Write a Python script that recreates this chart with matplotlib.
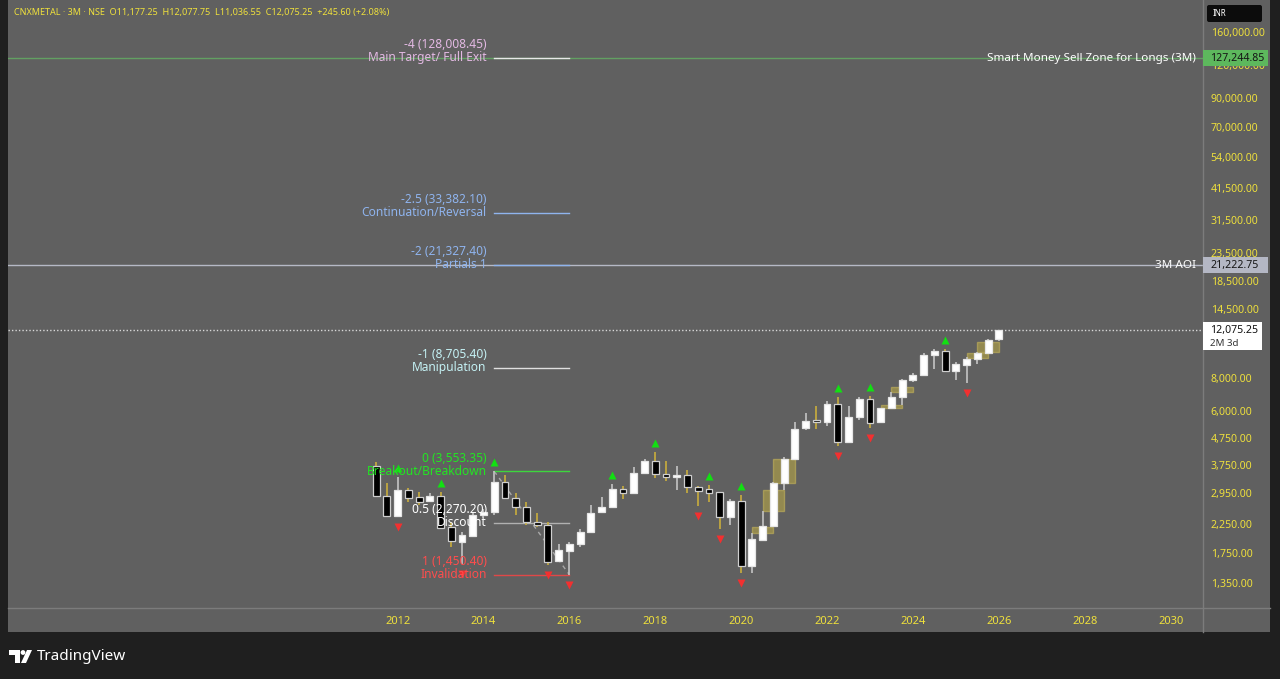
import matplotlib
matplotlib.use('Agg')
import matplotlib.pyplot as plt
import matplotlib.transforms as mtrans
from matplotlib.patches import Rectangle, Polygon, Circle, FancyBboxPatch
from matplotlib.lines import Line2D
from matplotlib.ticker import NullLocator

plt.rcParams['font.family'] = ['Noto Sans', 'DejaVu Sans']

# ---------------- data (quarterly candles, CNXMETAL) ----------------
quarters = ['2011Q3', '2011Q4',
            '2012Q1', '2012Q2', '2012Q3', '2012Q4',
            '2013Q1', '2013Q2', '2013Q3', '2013Q4',
            '2014Q1', '2014Q2', '2014Q3', '2014Q4',
            '2015Q1', '2015Q2', '2015Q3', '2015Q4',
            '2016Q1', '2016Q2', '2016Q3', '2016Q4',
            '2017Q1', '2017Q2', '2017Q3', '2017Q4',
            '2018Q1', '2018Q2', '2018Q3', '2018Q4',
            '2019Q1', '2019Q2', '2019Q3', '2019Q4',
            '2020Q1', '2020Q2', '2020Q3', '2020Q4',
            '2021Q1', '2021Q2', '2021Q3', '2021Q4',
            '2022Q1', '2022Q2', '2022Q3', '2022Q4',
            '2023Q1', '2023Q2', '2023Q3', '2023Q4',
            '2024Q1', '2024Q2', '2024Q3', '2024Q4',
            '2025Q1', '2025Q2', '2025Q3', '2025Q4',
            '2026Q1']
opens = [3731, 2860,
         2420, 3022, 2840, 2735,
         2870, 2190, 1931, 2034,
         2434, 2500, 3250, 2820,
         2616, 2290, 2240, 1630,
         1781, 1888, 2105, 2490,
         2610, 3045, 2945, 3500,
         3876, 3480, 3392, 3430,
         3100, 3040, 2960, 2400,
         2755, 1564, 1965, 2215,
         3215, 3960, 5160, 5520,
         5470, 6369, 4590, 5705,
         6640, 5430, 6136, 6750,
         7860, 8200, 9700, 10082,
         8499, 8950, 9406, 9900,
         11177.25]
highs = [3863, 3203,
         3380, 3084, 2963, 2937,
         2978, 2296, 2095, 2504,
         2560, 3553.35, 3442, 2937,
         2731, 2470, 2296, 1888,
         1921, 2150, 2654, 2852,
         3184, 3129, 3680, 3944,
         4201, 3886, 3721, 3594,
         3130, 3156, 2978, 2800,
         2894, 2088, 2526, 3225,
         4013, 5463, 5875, 6259,
         6554, 6785, 6259, 6785,
         6826, 6140, 7048, 7910,
         8354, 9883, 10231, 10231,
         9189, 9580, 10020, 11200,
         12077.75]
lows = [2845, 2398,
        2390, 2731, 2654, 2712,
        2165, 1849, 1590, 2020,
        2370, 2440, 2813, 2434,
        2232, 2199, 1578, 1615,
        1450.40, 1844, 2090, 2470,
        2590, 2788, 2920, 3480,
        3362, 3276, 3022, 2937,
        2631, 2731, 2150, 2232,
        1468, 1476, 1950, 2187,
        3022, 3954, 5084, 5115,
        5262, 4426, 4550, 5544,
        5160, 5380, 6100, 6314,
        7727, 8150, 8603, 8426,
        7841, 7620, 9008, 9850,
        11036.55]
closes = [2877, 2419,
          3022, 2828, 2731, 2877,
          2180, 1943, 2046, 2434,
          2500, 3248, 2828, 2616,
          2296, 2232, 1624, 1797,
          1888, 2100, 2483, 2616,
          3041, 2945, 3493, 3876,
          3463, 3392, 3442, 3094,
          3004, 2937, 2398, 2755,
          1564, 1971, 2212, 3220,
          3944, 5128, 5511, 5470,
          6369, 4594, 5705, 6633,
          5416, 6136, 6750, 7841,
          8189, 9738, 10082, 8499,
          8984, 9406, 9883, 11120,
          12075.25]

# imbalance boxes (olive)
fvg_start = ['2020Q2', '2020Q3', '2020Q4', '2023Q2', '2023Q3', '2025Q2', '2025Q3']
fvg_end = ['2020Q4', '2021Q1', '2021Q2', '2023Q4', '2024Q1', '2025Q4', '2026Q1']
fvg_low = [2088, 2526, 3220, 6136, 7048, 9464, 10020]
fvg_high = [2187, 3022, 3954, 6314, 7399, 9883, 10928]

# swing markers
swing_high_q = ['2012Q1', '2013Q1', '2014Q2', '2017Q1', '2018Q1', '2019Q2',
                '2020Q1', '2022Q2', '2023Q1', '2024Q4']
swing_low_q = ['2012Q1', '2013Q3', '2015Q3', '2016Q1', '2019Q1', '2019Q3',
               '2020Q1', '2022Q2', '2023Q1', '2025Q2']

# log fib levels
fib_start, fib_end = '2014Q2', '2016Q1'
fib_levels = [-4, -2.5, -2, -1, 0, 0.5, 1]
fib_prices = [128008.45, 33382.10, 21327.40, 8705.40, 3553.35, 2270.20, 1450.40]
fib_names = ['Main Target/ Full Exit', 'Continuation/Reversal', 'Partials 1',
             'Manipulation', 'Breakout/Breakdown', 'Discount', 'Invalidation']
fib_text_colors = ['#e3b9e3', '#8fb4ee', '#8fb4ee', '#c4f1f4', '#22e622', '#ffffff', '#ff4d4d']
fib_line_colors = ['#e8e8e8', '#8fb4ee', '#8fb4ee', '#e0e0e0', '#3dd63d', '#b0b0b0', '#e04848']

# full-width zones
zone_prices = [127244.85, 21222.75]
zone_names = ['Smart Money Sell Zone for Longs (3M)', '3M AOI']
zone_colors = ['#62a062', '#b6b9c6']
zone_label_bg = ['#5db85d', '#b4b7c4']

year_ticks = [2012, 2014, 2016, 2018, 2020, 2022, 2024, 2026, 2028, 2030]
price_ticks = [160000, 120000, 90000, 70000, 54000, 41500, 31500, 23500, 18500,
               14500, 8000, 6000, 4750, 3750, 2950, 2250, 1750, 1350]

header = ('CNXMETAL · 3M · NSE  O11,177.25  H12,077.75  L11,036.55  '
          'C12,075.25  +245.60 (+2.08%)')
remaining = '2M 3d'

# ---------------- styling ----------------
BG = '#606060'
DARK = '#1f1f1f'
YEL = '#efe03c'
SEP = '#7c7c7c'
W, H = 1280, 679


def qidx(q):
    return (int(q[:4]) - 2012) * 4 + int(q[-1]) - 1


fig = plt.figure(figsize=(W / 100, H / 100), dpi=100)
fig.patch.set_facecolor(DARK)
ident = mtrans.IdentityTransform()

# gray pane incl. axes strips
fig.add_artist(Rectangle((8, H - 632), 1270 - 8, 632, transform=ident,
                         facecolor=BG, edgecolor='none', zorder=0))

ax = fig.add_axes([8 / W, 1 - 608 / H, (1203 - 8) / W, 608 / H])
ax.set_facecolor(BG)
ax.set_yscale('log')
ax.set_xlim(-36.29, 75.02)
ax.set_ylim(1086.7, 211100)
for s in ax.spines.values():
    s.set_visible(False)

# axes ticks
ax.yaxis.tick_right()
ax.set_yticks(price_ticks)
ax.set_yticklabels([f'{v:,.2f}' for v in price_ticks])
ax.yaxis.set_minor_locator(NullLocator())
ax.tick_params(axis='y', length=0, pad=5.5, labelcolor=YEL, labelsize=7.6)
for t in ax.get_yticklabels():
    t.set_fontweight('bold')
ax.set_xticks([qidx(f'{y}Q1') for y in year_ticks])
ax.set_xticklabels([str(y) for y in year_ticks])
ax.xaxis.set_minor_locator(NullLocator())
ax.tick_params(axis='x', length=0, pad=5.5, labelcolor=YEL, labelsize=8)
for t in ax.get_xticklabels():
    t.set_fontweight('bold')

# full-width lines
for p, c in zip(zone_prices, zone_colors):
    ax.axhline(p, color=c, lw=1, zorder=1)
ax.axhline(closes[-1], color='#d8d8d8', lw=1, ls=(0, (1, 1.5)), zorder=1)
for p, name in zip(zone_prices, zone_names):
    ax.text(1 - 7 / 1195, p, name, transform=ax.get_yaxis_transform(),
            ha='right', va='center', color='white', fontsize=8.4, zorder=7)

# imbalance boxes
for s, e, lo, hi in zip(fvg_start, fvg_end, fvg_low, fvg_high):
    xs, xe = qidx(s), qidx(e)
    ax.add_patch(Rectangle((xs, lo), xe - xs, hi - lo, facecolor='#b3a347',
                           alpha=0.62, edgecolor='#c2b258', lw=1, zorder=2))

# candles
for q, o, h, l, c in zip(quarters, opens, highs, lows, closes):
    x = qidx(q)
    up = c >= o
    ax.vlines(x, l, h, color='#c4c4c4' if up else '#c9ae3c', lw=1.2, zorder=3)
    ax.add_patch(Rectangle((x - 0.32, min(o, c)), 0.64, abs(c - o),
                           facecolor='white' if up else 'black',
                           edgecolor='#e6e6e6' if up else '#cfcfcf',
                           lw=0.9, zorder=4))

# swing markers
hi_map = {q: h for q, h in zip(quarters, highs)}
lo_map = {q: l for q, l in zip(quarters, lows)}
up_tr = mtrans.offset_copy(ax.transData, fig=fig, y=9, units='dots')
dn_tr = mtrans.offset_copy(ax.transData, fig=fig, y=-10, units='dots')
ax.plot([qidx(q) for q in swing_high_q], [hi_map[q] for q in swing_high_q],
        ls='none', marker='^', ms=5.5, color='#12e012', mec='none',
        transform=up_tr, zorder=5)
ax.plot([qidx(q) for q in swing_low_q], [lo_map[q] for q in swing_low_q],
        ls='none', marker='v', ms=5.5, color='#f23030', mec='none',
        transform=dn_tr, zorder=5)

# fib tool
fs, fe = qidx(fib_start), qidx(fib_end)
ax.plot([fs, fe], [fib_prices[fib_levels.index(0)], fib_prices[fib_levels.index(1)]],
        color='#a8a8a8', lw=1, ls=(0, (3, 3)), zorder=2)
val_tr = mtrans.offset_copy(ax.transData, fig=fig, y=13, units='dots')
for lvl, p, name, tc, lc in zip(fib_levels, fib_prices, fib_names,
                                 fib_text_colors, fib_line_colors):
    ax.plot([fs, fe], [p, p], color=lc, lw=1, zorder=2)
    ax.text(fs - 0.7, p, name, ha='right', va='center', color=tc,
            fontsize=8.6, zorder=7)
    ax.text(fs - 0.7, p, f'{lvl:g} ({p:,.2f})', ha='right', va='center',
            color=tc, fontsize=8.6, transform=val_tr, zorder=7)

# separators
fig.add_artist(Line2D([1203, 1203], [H - 632, H], transform=ident, color=SEP, lw=1))
fig.add_artist(Line2D([8, 1270], [H - 608, H - 608], transform=ident, color=SEP, lw=1))


def ypix(price):
    return ax.transData.transform((0, price))[1]


# price-axis labels
for p, bg in zip(zone_prices, zone_label_bg):
    yc = ypix(p)
    fig.add_artist(Rectangle((1203, yc - 8), 65, 16, transform=ident,
                             facecolor=bg, edgecolor='none', zorder=5))
    fig.text(1210.5, yc, f'{p:,.2f}', transform=ident, ha='left', va='center',
             color='#151515', fontsize=7.6, zorder=6)

yc = ypix(closes[-1])
fig.add_artist(Rectangle((1203, yc - 20), 59, 28, transform=ident,
                         facecolor='white', edgecolor='none', zorder=5))
fig.text(1210.5, yc, f'{closes[-1]:,.2f}', transform=ident, ha='left',
         va='center', color='#111111', fontsize=7.6, zorder=6)
fig.text(1210.5, yc - 13, remaining, transform=ident, ha='left', va='center',
         color='#333333', fontsize=7, zorder=6)

fig.add_artist(FancyBboxPatch((1207, H - 22), 55, 17, transform=ident,
                              boxstyle='round,pad=0,rounding_size=2',
                              facecolor='#0c0c0c', edgecolor='none', zorder=5))
fig.text(1213, H - 13.5, 'INR', transform=ident, ha='left', va='center',
         color='white', fontsize=5.8, zorder=6)

# header
fig.text(14, H - 12, header, transform=ident, ha='left', va='center',
         color=YEL, fontsize=6.5)

# TradingView logo
fig.add_artist(Polygon([(9, H - 650), (20, H - 650), (20, H - 663), (15, H - 663),
                        (15, H - 655), (9, H - 655)], closed=True, transform=ident,
                       facecolor='white', edgecolor='none'))
fig.add_artist(Circle((23, H - 652.5), 2.4, transform=ident, facecolor='white',
                      edgecolor='none'))
fig.add_artist(Polygon([(27, H - 650), (32, H - 650), (26, H - 663), (21, H - 663)],
                       closed=True, transform=ident, facecolor='white',
                       edgecolor='none'))
fig.text(37, H - 657, 'TradingView', transform=ident, ha='left', va='center',
         color='white', fontsize=11, fontweight='bold')

fig.savefig('out.png', dpi=100, facecolor=fig.get_facecolor())
